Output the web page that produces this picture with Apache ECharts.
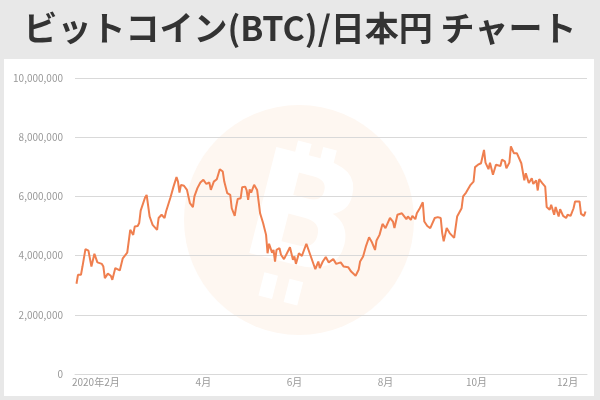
<!DOCTYPE html>
<html>
<head>
<meta charset="utf-8">
<script src="https://cdn.jsdelivr.net/npm/echarts@6/dist/echarts.min.js"></script>
<style>
html,body{margin:0;padding:0;background:#e8e8e8;}
#chart{width:600px;height:400px;}
</style>
</head>
<body>
<div id="chart"></div>
<script>
// Day index (days since Jan 1) of each observation
const days = [6,7,9,10,12,14,16,18,20,23,24,25,27,29,30,32,33,35,37,40,41,42,44,45,47,48,49,50,52,53,55,57,60,61,62,63,65,66,69,71,73,74,75,76,78,80,82,84,85,87,89,91,93,95,96,98,100,101,102,104,105,107,109,110,112,113,114,116,117,119,120,121,122,123,125,127,128,129,130,131,133,134,135,137,138,139,140,142,143,145,147,149,151,152,153,155,157,158,160,161,163,164,166,168,169,171,173,175,178,180,183,185,188,190,193,195,196,198,200,202,204,206,207,209,211,213,216,218,219,221,224,225,227,228,230,231,233,234,236,238,239,241,243,244,246,248,250,251,252,254,256,257,259,261,262,264,265,267,268,270,272,273,275,277,279,280,282,283,285,287,288,290,291,293,294,296,297,299,301,302,304,306,307,309,311,312,314,315,316,318,320,321,323,324,326,327,329,330,332,334,335,337,339,340,343,344,346,347];
// BTC/JPY price (yen)
const prices = [3050000,3350000,3350000,3630000,4220000,4170000,3630000,4060000,3770000,3720000,3630000,3240000,3390000,3320000,3180000,3580000,3610000,3500000,3910000,4100000,4140000,4870000,4700000,4980000,5000000,5100000,5520000,5550000,5970000,6050000,5320000,5040000,4870000,5270000,5230000,5380000,5270000,5490000,5970000,6330000,6650000,6500000,6130000,6390000,6360000,6220000,5770000,5640000,6000000,6280000,6470000,6560000,6420000,6470000,6220000,6500000,6580000,6560000,6920000,6840000,6500000,6110000,6050000,5600000,5340000,5660000,5910000,5940000,6310000,6330000,6200000,5880000,6240000,6130000,6390000,6220000,5830000,5430000,5490000,5100000,4700000,4080000,4400000,4100000,4190000,3800000,4190000,4250000,4030000,3880000,4080000,4280000,3860000,3970000,3720000,4080000,3990000,3950000,4400000,4370000,3970000,3950000,3540000,3800000,3580000,3800000,3950000,3770000,3880000,3720000,3770000,3630000,3610000,3460000,3320000,3520000,3800000,3970000,4330000,4620000,4440000,4190000,4510000,4700000,5070000,4930000,5270000,5150000,4930000,5380000,5430000,5380000,5230000,5320000,5210000,5340000,5230000,5430000,5600000,5800000,5150000,5000000,4930000,4980000,5270000,5300000,5270000,4760000,4480000,4930000,4760000,4820000,4600000,5320000,5380000,5600000,6000000,6130000,6160000,6390000,6500000,6990000,7070000,7120000,7570000,7140000,6920000,7140000,6730000,7070000,7010000,7030000,7240000,7180000,6950000,7140000,7690000,7460000,7460000,7460000,7120000,6540000,6780000,6450000,6610000,6420000,6540000,6200000,6580000,6450000,6330000,5640000,5550000,5720000,5380000,5640000,5320000,5570000,5340000,5270000,5380000,5340000,5600000,5830000,5830000,5410000,5340000,5490000];
// X tick positions (day index of month starts) and their labels
const tickDays = [31, 91, 152, 213, 274, 335];
const tickLabels = ['2020年2月', '4月', '6月', '8月', '10月', '12月'];
const yTicks = [0, 2000000, 4000000, 6000000, 8000000, 10000000];
const titleText = 'ビットコイン(BTC)/日本円 チャート';

const FONT = '"Noto Sans CJK JP", "Noto Sans", sans-serif';
const chart = echarts.init(document.getElementById('chart'), null, {renderer: 'canvas'});
const seriesData = days.map((d, i) => [d, prices[i]]);

chart.setOption({
  backgroundColor: '#e8e8e8',
  animation: false,
  title: {
    text: titleText,
    left: 'center',
    top: 6,
    textStyle: {fontFamily: FONT, fontSize: 34, fontWeight: 'bold', color: '#333333'}
  },
  graphic: [
    {type: 'rect', z: -30, shape: {x: 4, y: 59, width: 590, height: 337}, style: {fill: '#ffffff'}, silent: true},
    {type: 'circle', z: -20, shape: {cx: 299, cy: 220, r: 115}, style: {fill: '#fef7f1'}, silent: true},
    {type: 'group', z: -10, x: 302, y: 222, rotation: -0.25, silent: true, children: [
      {type: 'text', z: -10, style: {text: 'B', x: 0, y: 4, fill: '#ffffff', font: 'bold 150px "DejaVu Sans", sans-serif', textAlign: 'center', textVerticalAlign: 'middle'}},
      {type: 'rect', z: -10, shape: {x: -24, y: -78, width: 14, height: 24}, style: {fill: '#ffffff'}},
      {type: 'rect', z: -10, shape: {x: 2, y: -78, width: 14, height: 24}, style: {fill: '#ffffff'}},
      {type: 'rect', z: -10, shape: {x: -24, y: 58, width: 14, height: 24}, style: {fill: '#ffffff'}},
      {type: 'rect', z: -10, shape: {x: 2, y: 58, width: 14, height: 24}, style: {fill: '#ffffff'}}
    ]}
  ],
  grid: {left: 75, right: 13, top: 78, bottom: 26, containLabel: false},
  xAxis: {
    type: 'value',
    min: 5,
    max: 348,
    splitLine: {show: false},
    axisTick: {show: false},
    axisLine: {show: true, lineStyle: {color: '#d9d9d9', width: 1}},
    axisLabel: {
      customValues: tickDays,
      margin: 3,
      color: '#999999',
      fontFamily: FONT,
      fontSize: 10,
      formatter: function (v) {
        const i = tickDays.indexOf(Math.round(v));
        if (i < 0) return '';
        if (i === 0) return '{first|' + tickLabels[i] + '}';
        return tickLabels[i];
      },
      rich: {
        first: {color: '#999999', fontFamily: FONT, fontSize: 10, padding: [0, 36, 0, 0]}
      }
    }
  },
  yAxis: {
    type: 'value',
    min: yTicks[0],
    max: yTicks[yTicks.length - 1],
    interval: yTicks[1] - yTicks[0],
    axisLine: {show: false},
    axisTick: {show: false},
    splitLine: {show: true, lineStyle: {color: '#d9d9d9', width: 1}},
    axisLabel: {
      margin: 12,
      color: '#999999',
      fontFamily: FONT,
      fontSize: 10,
      formatter: function (v) { return v.toLocaleString('en-US'); }
    }
  },
  series: [{
    type: 'line',
    data: seriesData,
    showSymbol: false,
    symbol: 'none',
    lineStyle: {color: '#ef7f4f', width: 2},
    itemStyle: {color: '#ef7f4f'},
    z: 5
  }]
});
</script>
</body>
</html>
